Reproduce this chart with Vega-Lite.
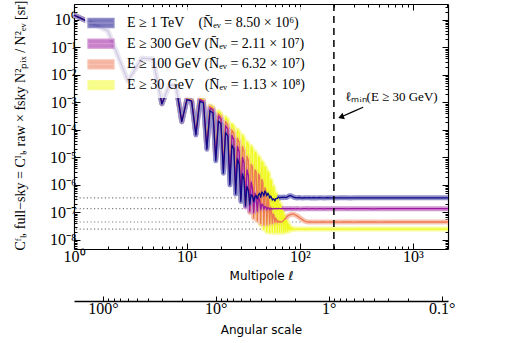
{
  "$schema": "https://vega.github.io/schema/vega-lite/v6.json",
  "width": 374,
  "height": 245,
  "autosize": {"type": "none"},
  "padding": {"left": 74, "top": 4, "right": 75, "bottom": 94},
  "background": "white",
  "config": {
    "view": {"stroke": null},
    "axis": {"domainColor": "black", "tickColor": "black", "labelColor": "black", "titleColor": "black", "grid": false, "labelFont": "Liberation Serif", "labelFontSize": 16, "domainWidth": 1.2, "tickWidth": 1},
    "legend": {"fillColor": "white"}
  },
  "resolve": {"axis": {"x": "independent", "y": "independent"}},
  "datasets": {
    "spec": [
      {"l": 1, "a": 1.5, "b": 1.5, "c": 1.5, "d": 1.5},
      {"l": 2, "a": 0.398, "b": 0.398, "c": 0.398, "d": 0.398},
      {"l": 3, "a": 6.03e-3, "b": 6.03e-3, "c": 6.03e-3, "d": 6.03e-3},
      {"l": 4, "a": 4.07e-2, "b": 4.07e-2, "c": 4.07e-2, "d": 4.07e-2},
      {"l": 5, "a": 3.8e-2, "b": 3.8e-2, "c": 3.8e-2, "d": 3.8e-2},
      {"l": 6, "a": 8.91e-4, "b": 8.91e-4, "c": 8.91e-4, "d": 8.91e-4},
      {"l": 7, "a": 4.37e-3, "b": 4.37e-3, "c": 4.37e-3, "d": 4.37e-3},
      {"l": 8, "a": 3.98e-3, "b": 3.98e-3, "c": 3.98e-3, "d": 3.98e-3},
      {"l": 9, "a": 2.0e-4, "b": 2.0e-4, "c": 2.0e-4, "d": 2.0e-4},
      {"l": 10, "a": 1.26e-3, "b": 1.32e-3, "c": 1.35e-3, "d": 1.38e-3},
      {"l": 11, "a": 1.12e-3, "b": 1.17e-3, "c": 1.2e-3, "d": 1.23e-3},
      {"l": 12, "a": 6.61e-5, "b": 7.08e-5, "c": 7.59e-5, "d": 7.94e-5},
      {"l": 13, "a": 1.12e-3, "b": 1.26e-3, "c": 1.35e-3, "d": 1.41e-3},
      {"l": 14, "a": 9.55e-4, "b": 1.1e-3, "c": 1.17e-3, "d": 1.26e-3},
      {"l": 15, "a": 2.0e-5, "b": 2.24e-5, "c": 2.51e-5, "d": 2.82e-5},
      {"l": 16, "a": 5.01e-4, "b": 6.31e-4, "c": 7.08e-4, "d": 7.59e-4},
      {"l": 17, "a": 4.17e-4, "b": 5.37e-4, "c": 6.03e-4, "d": 6.61e-4},
      {"l": 18, "a": 7.59e-6, "b": 8.91e-6, "c": 1.0e-5, "d": 1.12e-5},
      {"l": 19, "a": 2.09e-4, "b": 3.16e-4, "c": 3.8e-4, "d": 4.68e-4},
      {"l": 20, "a": 1.66e-4, "b": 2.51e-4, "c": 3.02e-4, "d": 3.8e-4},
      {"l": 21, "a": 2.69e-6, "b": 3.55e-6, "c": 3.98e-6, "d": 4.47e-6},
      {"l": 22, "a": 7.94e-5, "b": 1.41e-4, "c": 2.0e-4, "d": 2.82e-4},
      {"l": 23, "a": 6.03e-5, "b": 1.07e-4, "c": 1.51e-4, "d": 2.24e-4},
      {"l": 24, "a": 1.0e-6, "b": 1.41e-6, "c": 1.58e-6, "d": 1.78e-6},
      {"l": 25, "a": 2.82e-5, "b": 6.31e-5, "c": 1.0e-4, "d": 1.58e-4},
      {"l": 26, "a": 2.0e-5, "b": 4.47e-5, "c": 7.59e-5, "d": 1.26e-4},
      {"l": 27, "a": 4.68e-7, "b": 6.31e-7, "c": 7.08e-7, "d": 7.94e-7},
      {"l": 28, "a": 8.91e-6, "b": 2.51e-5, "c": 5.01e-5, "d": 1.0e-4},
      {"l": 29, "a": 5.62e-6, "b": 1.58e-5, "c": 3.55e-5, "d": 7.59e-5},
      {"l": 30, "a": 2.51e-7, "b": 3.16e-7, "c": 3.55e-7, "d": 3.98e-7},
      {"l": 31, "a": 2.51e-6, "b": 1.0e-5, "c": 2.51e-5, "d": 6.31e-5},
      {"l": 32, "a": 1.58e-6, "b": 6.31e-6, "c": 1.66e-5, "d": 4.47e-5},
      {"l": 33, "a": 1.78e-7, "b": 1.58e-7, "c": 1.78e-7, "d": 2.0e-7},
      {"l": 34, "a": 8.91e-7, "b": 3.55e-6, "c": 1.12e-5, "d": 3.55e-5},
      {"l": 35, "a": 6.31e-7, "b": 2.24e-6, "c": 7.59e-6, "d": 2.82e-5},
      {"l": 36, "a": 2.0e-7, "b": 1.12e-7, "c": 1.0e-7, "d": 1.12e-7},
      {"l": 37, "a": 4.47e-7, "b": 1.26e-6, "c": 5.62e-6, "d": 2.51e-5},
      {"l": 38, "a": 3.98e-7, "b": 7.94e-7, "c": 4.47e-6, "d": 2.0e-5},
      {"l": 39, "a": 2.51e-7, "b": 1.0e-7, "c": 6.31e-8, "d": 7.08e-8},
      {"l": 40, "a": 3.8e-7, "b": 5.01e-7, "c": 3.55e-6, "d": 1.58e-5},
      {"l": 41, "a": 4.17e-7, "b": 3.55e-7, "c": 3.02e-6, "d": 1.32e-5},
      {"l": 42, "a": 3.16e-7, "b": 1.12e-7, "c": 5.01e-8, "d": 5.01e-8},
      {"l": 43, "a": 4.47e-7, "b": 3.55e-7, "c": 2.51e-6, "d": 1.07e-5},
      {"l": 44, "a": 5.01e-7, "b": 2.82e-7, "c": 2.09e-6, "d": 8.91e-6},
      {"l": 45, "a": 3.55e-7, "b": 1.26e-7, "c": 3.98e-8, "d": 3.55e-8},
      {"l": 46, "a": 5.62e-7, "b": 2.0e-7, "c": 1.58e-6, "d": 7.08e-6},
      {"l": 47, "a": 5.01e-7, "b": 1.91e-7, "c": 1.26e-6, "d": 6.03e-6},
      {"l": 48, "a": 3.98e-7, "b": 1.32e-7, "c": 3.55e-8, "d": 2.51e-8},
      {"l": 49, "a": 6.03e-7, "b": 1.66e-7, "c": 7.94e-7, "d": 4.68e-6},
      {"l": 50, "a": 5.25e-7, "b": 1.58e-7, "c": 6.31e-7, "d": 3.8e-6},
      {"l": 51, "a": 3.98e-7, "b": 1.26e-7, "c": 3.55e-8, "d": 2.0e-8},
      {"l": 52, "a": 5.01e-7, "b": 1.51e-7, "c": 3.55e-7, "d": 3.02e-6},
      {"l": 53, "a": 4.47e-7, "b": 1.45e-7, "c": 2.82e-7, "d": 2.51e-6},
      {"l": 54, "a": 3.31e-7, "b": 1.26e-7, "c": 3.8e-8, "d": 1.91e-8},
      {"l": 55, "a": 3.98e-7, "b": 1.41e-7, "c": 1.58e-7, "d": 1.58e-6},
      {"l": 56, "a": 3.55e-7, "b": 1.38e-7, "c": 1.26e-7, "d": 1.26e-6},
      {"l": 57, "a": 2.82e-7, "b": 1.32e-7, "c": 3.98e-8, "d": 1.91e-8},
      {"l": 58, "a": 3.16e-7, "b": 1.41e-7, "c": 8.91e-8, "d": 8.91e-7},
      {"l": 59, "a": 3.02e-7, "b": 1.38e-7, "c": 7.94e-8, "d": 7.08e-7},
      {"l": 60, "a": 2.63e-7, "b": 1.35e-7, "c": 4.17e-8, "d": 1.91e-8},
      {"l": 61, "a": 3.16e-7, "b": 1.38e-7, "c": 6.31e-8, "d": 5.01e-7},
      {"l": 62, "a": 3.31e-7, "b": 1.41e-7, "c": 5.62e-8, "d": 3.98e-7},
      {"l": 63, "a": 3.16e-7, "b": 1.35e-7, "c": 4.27e-8, "d": 1.91e-8},
      {"l": 64, "a": 3.47e-7, "b": 1.38e-7, "c": 5.01e-8, "d": 3.16e-7},
      {"l": 65, "a": 3.63e-7, "b": 1.41e-7, "c": 4.79e-8, "d": 2.51e-7},
      {"l": 66, "a": 3.39e-7, "b": 1.38e-7, "c": 4.37e-8, "d": 1.91e-8},
      {"l": 67, "a": 3.55e-7, "b": 1.38e-7, "c": 4.68e-8, "d": 2.0e-7},
      {"l": 68, "a": 3.47e-7, "b": 1.35e-7, "c": 4.57e-8, "d": 1.66e-7},
      {"l": 69, "a": 3.55e-7, "b": 1.38e-7, "c": 4.47e-8, "d": 1.91e-8},
      {"l": 70, "a": 3.63e-7, "b": 1.41e-7, "c": 4.79e-8, "d": 1.26e-7},
      {"l": 71, "a": 3.47e-7, "b": 1.38e-7, "c": 5.01e-8, "d": 1.05e-7},
      {"l": 72, "a": 3.55e-7, "b": 1.38e-7, "c": 5.25e-8, "d": 1.91e-8},
      {"l": 73, "a": 3.63e-7, "b": 1.38e-7, "c": 5.62e-8, "d": 7.94e-8},
      {"l": 74, "a": 3.55e-7, "b": 1.35e-7, "c": 5.89e-8, "d": 6.61e-8},
      {"l": 75, "a": 3.47e-7, "b": 1.38e-7, "c": 6.31e-8, "d": 2.0e-8},
      {"l": 76, "a": 3.5e-7, "b": 1.37e-7, "c": 6.61e-8, "d": 5.25e-8},
      {"l": 77, "a": 3.6e-7, "b": 1.39e-7, "c": 7.08e-8, "d": 4.57e-8},
      {"l": 78, "a": 3.7e-7, "b": 1.36e-7, "c": 7.41e-8, "d": 2.09e-8},
      {"l": 79, "a": 3.9e-7, "b": 1.38e-7, "c": 7.76e-8, "d": 3.8e-8},
      {"l": 80, "a": 4.0e-7, "b": 1.37e-7, "c": 7.94e-8, "d": 3.47e-8},
      {"l": 81, "a": 4.05e-7, "b": 1.39e-7, "c": 8.13e-8, "d": 2.24e-8},
      {"l": 82, "a": 4.1e-7, "b": 1.36e-7, "c": 8.32e-8, "d": 3.02e-8},
      {"l": 83, "a": 4.05e-7, "b": 1.38e-7, "c": 8.51e-8, "d": 2.82e-8},
      {"l": 84, "a": 4.0e-7, "b": 1.37e-7, "c": 8.51e-8, "d": 2.34e-8},
      {"l": 85, "a": 3.9e-7, "b": 1.38e-7, "c": 8.71e-8, "d": 2.7e-8},
      {"l": 86, "a": 3.8e-7, "b": 1.36e-7, "c": 8.71e-8, "d": 2.6e-8},
      {"l": 87, "a": 3.7e-7, "b": 1.38e-7, "c": 8.71e-8, "d": 2.4e-8},
      {"l": 88, "a": 3.6e-7, "b": 1.37e-7, "c": 8.71e-8, "d": 2.55e-8},
      {"l": 89, "a": 3.55e-7, "b": 1.38e-7, "c": 8.51e-8, "d": 2.51e-8},
      {"l": 90, "a": 3.5e-7, "b": 1.37e-7, "c": 8.32e-8, "d": 2.45e-8},
      {"l": 92, "a": 3.45e-7, "b": 1.36e-7, "c": 7.94e-8, "d": 2.48e-8},
      {"l": 95, "a": 3.38e-7, "b": 1.39e-7, "c": 7.41e-8, "d": 2.52e-8},
      {"l": 98, "a": 3.5e-7, "b": 1.37e-7, "c": 6.76e-8, "d": 2.49e-8},
      {"l": 102, "a": 3.42e-7, "b": 1.35e-7, "c": 6.03e-8, "d": 2.53e-8},
      {"l": 106, "a": 3.36e-7, "b": 1.38e-7, "c": 5.37e-8, "d": 2.5e-8},
      {"l": 110, "a": 3.46e-7, "b": 1.37e-7, "c": 4.9e-8, "d": 2.47e-8},
      {"l": 115, "a": 3.4e-7, "b": 1.39e-7, "c": 4.57e-8, "d": 2.51e-8},
      {"l": 120, "a": 3.44e-7, "b": 1.36e-7, "c": 4.5e-8, "d": 2.5e-8},
      {"l": 126, "a": 3.37e-7, "b": 1.38e-7, "c": 4.55e-8, "d": 2.52e-8},
      {"l": 133, "a": 3.43e-7, "b": 1.37e-7, "c": 4.48e-8, "d": 2.49e-8},
      {"l": 140, "a": 3.39e-7, "b": 1.36e-7, "c": 4.52e-8, "d": 2.5e-8},
      {"l": 148, "a": 3.45e-7, "b": 1.38e-7, "c": 4.47e-8, "d": 2.51e-8},
      {"l": 156, "a": 3.41e-7, "b": 1.37e-7, "c": 4.53e-8, "d": 2.49e-8},
      {"l": 165, "a": 3.38e-7, "b": 1.36e-7, "c": 4.5e-8, "d": 2.5e-8},
      {"l": 175, "a": 3.43e-7, "b": 1.38e-7, "c": 4.49e-8, "d": 2.51e-8},
      {"l": 186, "a": 3.4e-7, "b": 1.37e-7, "c": 4.52e-8, "d": 2.5e-8},
      {"l": 198, "a": 3.42e-7, "b": 1.36e-7, "c": 4.5e-8, "d": 2.49e-8},
      {"l": 210, "a": 3.39e-7, "b": 1.37e-7, "c": 4.51e-8, "d": 2.5e-8},
      {"l": 225, "a": 3.41e-7, "b": 1.38e-7, "c": 4.49e-8, "d": 2.51e-8},
      {"l": 240, "a": 3.4e-7, "b": 1.37e-7, "c": 4.5e-8, "d": 2.5e-8},
      {"l": 260, "a": 3.42e-7, "b": 1.36e-7, "c": 4.51e-8, "d": 2.5e-8},
      {"l": 280, "a": 3.39e-7, "b": 1.37e-7, "c": 4.5e-8, "d": 2.49e-8},
      {"l": 300, "a": 3.41e-7, "b": 1.37e-7, "c": 4.49e-8, "d": 2.5e-8},
      {"l": 330, "a": 3.4e-7, "b": 1.38e-7, "c": 4.5e-8, "d": 2.51e-8},
      {"l": 360, "a": 3.41e-7, "b": 1.37e-7, "c": 4.51e-8, "d": 2.5e-8},
      {"l": 400, "a": 3.4e-7, "b": 1.37e-7, "c": 4.5e-8, "d": 2.5e-8},
      {"l": 450, "a": 3.41e-7, "b": 1.36e-7, "c": 4.5e-8, "d": 2.5e-8},
      {"l": 500, "a": 3.4e-7, "b": 1.37e-7, "c": 4.49e-8, "d": 2.5e-8},
      {"l": 600, "a": 3.4e-7, "b": 1.37e-7, "c": 4.5e-8, "d": 2.5e-8},
      {"l": 700, "a": 3.41e-7, "b": 1.37e-7, "c": 4.5e-8, "d": 2.5e-8},
      {"l": 800, "a": 3.4e-7, "b": 1.37e-7, "c": 4.5e-8, "d": 2.5e-8},
      {"l": 1000, "a": 3.4e-7, "b": 1.37e-7, "c": 4.5e-8, "d": 2.5e-8},
      {"l": 1200, "a": 3.4e-7, "b": 1.37e-7, "c": 4.5e-8, "d": 2.5e-8},
      {"l": 1500, "a": 3.4e-7, "b": 1.37e-7, "c": 4.5e-8, "d": 2.5e-8},
      {"l": 1800, "a": 3.4e-7, "b": 1.37e-7, "c": 4.5e-8, "d": 2.5e-8},
      {"l": 2048, "a": 3.4e-7, "b": 1.37e-7, "c": 4.5e-8, "d": 2.5e-8}
    ],
    "noise": [{"lev": 3.4e-7}, {"lev": 1.37e-7}, {"lev": 4.5e-8}, {"lev": 2.5e-8}],
    "lmin": [{"l": 200}],
    "note": [{"l": 252, "v": 1.58e-3, "t": "ℓₘᵢₙ(E ≥ 30 GeV)"}],
    "arrow": [{"l": 363, "v": 6.69e-4}, {"l": 296, "v": 4.63e-4}, {"l": 231, "v": 2.96e-4}],
    "head": [{"l": 231, "v": 2.96e-4}]
  },
  "layer": [
    {
      "data": {"name": "noise"},
      "mark": {"type": "rule", "color": "#7f7f7f", "strokeDash": [1.2, 2.4], "strokeWidth": 1.2},
      "encoding": {
        "y": {"field": "lev", "type": "quantitative", "scale": {"type": "log", "domain": [4.7e-9, 3.8], "nice": false}, "axis": null}
      }
    },
    {
      "data": {"name": "spec"},
      "transform": [{"fold": ["d", "c", "b", "a"], "as": ["s", "v"]}],
      "mark": {"type": "line", "strokeWidth": 5, "opacity": 1, "strokeJoin": "round"},
      "encoding": {
        "x": {"field": "l", "type": "quantitative", "scale": {"type": "log", "domain": [1, 2048], "nice": false},
          "axis": {"orient": "top", "values": [1,2,3,4,5,6,7,8,9,10,20,30,40,50,60,70,80,90,100,200,300,400,500,600,700,800,900,1000,2000], "labels": false, "title": null,
            "tickSize": {"condition": {"test": "indexof([1,10,100,1000], datum.value) >= 0", "value": -6}, "value": -3}}},
        "y": {"field": "v", "type": "quantitative", "scale": {"type": "log", "domain": [4.7e-9, 3.8], "nice": false},
          "axis": {"orient": "right", "values": [5e-9,6e-9,7e-9,8e-9,9e-9,1e-8,2e-8,3e-8,4e-8,5e-8,6e-8,7e-8,8e-8,9e-8,1e-7,2e-7,3e-7,4e-7,5e-7,6e-7,7e-7,8e-7,9e-7,1e-6,2e-6,3e-6,4e-6,5e-6,6e-6,7e-6,8e-6,9e-6,1e-5,2e-5,3e-5,4e-5,5e-5,6e-5,7e-5,8e-5,9e-5,0.0001,0.0002,0.0003,0.0004,0.0005,0.0006,0.0007,0.0008,0.0009,0.001,0.002,0.003,0.004,0.005,0.006,0.007,0.008,0.009,0.01,0.02,0.03,0.04,0.05,0.06,0.07,0.08,0.09,0.1,0.2,0.3,0.4,0.5,0.6,0.7,0.8,0.9,1,2,3], "labels": false, "title": null,
            "tickSize": {"condition": {"test": "indexof([1e-8,1e-7,1e-6,1e-5,0.0001,0.001,0.01,0.1,1], datum.value) >= 0", "value": -6}, "value": -3}}},
        "stroke": {"field": "s", "type": "nominal", "scale": {"domain": ["a", "b", "c", "d"], "range": ["#9290c9", "#d297d3", "#f7c3b2", "#f8fc9b"]},
          "legend": {"orient": "none", "legendX": 11, "legendY": 3, "title": null, "fillColor": "white", "padding": 5, "zindex": 1,
            "symbolType": "M-1.3,-0.45H1.3V0.45H-1.3Z M-1.3,0H1.3", "symbolSize": 400, "symbolStrokeWidth": 1.3,
            "labelFont": "Liberation Serif", "labelFontSize": 14, "labelColor": "black", "labelOffset": 15, "rowPadding": 1.7, "labelLimit": 400,
            "labelExpr": "datum.label == 'a' ? 'E ≥ 1 TeV\u2003(N̄ₑᵥ = 8.50 × 10⁶)' : datum.label == 'b' ? 'E ≥ 300 GeV (N̄ₑᵥ = 2.11 × 10⁷)' : datum.label == 'c' ? 'E ≥ 100 GeV (N̄ₑᵥ = 6.32 × 10⁷)' : 'E ≥ 30 GeV\u2002 (N̄ₑᵥ = 1.13 × 10⁸)'",
            "encode": {
              "legend": {"update": {"fill": {"value": "white"}, "fillOpacity": {"value": 0.8}}},
              "symbols": {"update": {"fill": {"scale": "color", "field": "value"}, "fillOpacity": {"value": 0.55}, "stroke": {"scale": "color", "field": "value"}, "strokeOpacity": {"value": 1}}}}}}
      }
    },
    {
      "data": {"name": "spec"},
      "transform": [{"fold": ["d", "c", "b", "a"], "as": ["s", "v"]}],
      "mark": {"type": "line", "strokeWidth": 1.3, "strokeJoin": "round"},
      "encoding": {
        "x": {"field": "l", "type": "quantitative", "scale": {"type": "log", "domain": [1, 2048], "nice": false},
          "axis": {"orient": "bottom", "values": [1,2,3,4,5,6,7,8,9,10,20,30,40,50,60,70,80,90,100,200,300,400,500,600,700,800,900,1000,2000],
            "labelExpr": "datum.value == 1 ? '10⁰' : datum.value == 10 ? '10¹' : datum.value == 100 ? '10²' : datum.value == 1000 ? '10³' : ''",
            "labelFlush": false, "labelOverlap": false, "labelPadding": 5,
            "tickSize": {"condition": {"test": "indexof([1,10,100,1000], datum.value) >= 0", "value": -6}, "value": -3},
            "title": "Multipole ℓ", "titleFont": "DejaVu Sans", "titleFontSize": 12, "titleFontWeight": "normal", "titleY": 26, "titleBaseline": "middle"}},
        "y": {"field": "v", "type": "quantitative", "scale": {"type": "log", "domain": [4.7e-9, 3.8], "nice": false},
          "axis": {"orient": "left", "values": [5e-9,6e-9,7e-9,8e-9,9e-9,1e-8,2e-8,3e-8,4e-8,5e-8,6e-8,7e-8,8e-8,9e-8,1e-7,2e-7,3e-7,4e-7,5e-7,6e-7,7e-7,8e-7,9e-7,1e-6,2e-6,3e-6,4e-6,5e-6,6e-6,7e-6,8e-6,9e-6,1e-5,2e-5,3e-5,4e-5,5e-5,6e-5,7e-5,8e-5,9e-5,0.0001,0.0002,0.0003,0.0004,0.0005,0.0006,0.0007,0.0008,0.0009,0.001,0.002,0.003,0.004,0.005,0.006,0.007,0.008,0.009,0.01,0.02,0.03,0.04,0.05,0.06,0.07,0.08,0.09,0.1,0.2,0.3,0.4,0.5,0.6,0.7,0.8,0.9,1,2,3],
            "labelExpr": "datum.value == 1 ? '10⁰' : datum.value == 0.1 ? '10⁻¹' : datum.value == 0.01 ? '10⁻²' : datum.value == 0.001 ? '10⁻³' : datum.value == 0.0001 ? '10⁻⁴' : datum.value == 1e-5 ? '10⁻⁵' : datum.value == 1e-6 ? '10⁻⁶' : datum.value == 1e-7 ? '10⁻⁷' : datum.value == 1e-8 ? '10⁻⁸' : ''",
            "labelFlush": false, "labelOverlap": false, "labelPadding": 4,
            "tickSize": {"condition": {"test": "indexof([1e-8,1e-7,1e-6,1e-5,0.0001,0.001,0.01,0.1,1], datum.value) >= 0", "value": -6}, "value": -3},
            "title": "Cᶠₗ, full−sky = Cᴵₗ, raw × fsky N²ₚᵢₓ / N²ₑᵥ [sr]", "titleFont": "Liberation Serif", "titleFontSize": 14, "titleFontWeight": "normal", "titleX": -54, "titleY": 121, "titleAlign": "center", "titleBaseline": "middle"}},
        "color": {"field": "s", "type": "nominal", "scale": {"domain": ["a", "b", "c", "d"], "range": ["#0d0887", "#9c179e", "#ed7953", "#f0f921"]},
          "legend": {"orient": "none", "legendX": 11, "legendY": 3, "title": null, "fillColor": "white", "padding": 5, "zindex": 1,
            "symbolType": "M-1.3,-0.45H1.3V0.45H-1.3Z M-1.3,0H1.3", "symbolSize": 400, "symbolStrokeWidth": 1.3,
            "labelFont": "Liberation Serif", "labelFontSize": 14, "labelColor": "black", "labelOffset": 15, "rowPadding": 1.7, "labelLimit": 400,
            "labelExpr": "datum.label == 'a' ? 'E ≥ 1 TeV\u2003(N̄ₑᵥ = 8.50 × 10⁶)' : datum.label == 'b' ? 'E ≥ 300 GeV (N̄ₑᵥ = 2.11 × 10⁷)' : datum.label == 'c' ? 'E ≥ 100 GeV (N̄ₑᵥ = 6.32 × 10⁷)' : 'E ≥ 30 GeV\u2002 (N̄ₑᵥ = 1.13 × 10⁸)'",
            "encode": {
              "legend": {"update": {"fill": {"value": "white"}, "fillOpacity": {"value": 0.8}}},
              "symbols": {"update": {"fill": {"scale": "color", "field": "value"}, "fillOpacity": {"value": 0.55}, "stroke": {"scale": "color", "field": "value"}, "strokeOpacity": {"value": 1}}}}}}
      }
    },
    {
      "data": {"name": "lmin"},
      "mark": {"type": "rule", "color": "black", "strokeWidth": 1.5, "strokeDash": [7, 5]},
      "encoding": {
        "x": {"field": "l", "type": "quantitative", "scale": {"type": "log", "domain": [1, 2048], "nice": false},
          "axis": {"orient": "bottom", "offset": 52, "values": [1.8,2,2.25,2.571,3,3.6,4.5,6,9,18,20,22.5,25.71,30,36,45,60,90,180,200,225,257.1,300,360,450,600,900,1800],
            "labelExpr": "datum.value == 1.8 ? '100°' : datum.value == 18 ? '10°' : datum.value == 180 ? '1°' : datum.value == 1800 ? '0.1°' : ''",
            "labelFlush": false, "labelOverlap": false, "labelPadding": 4, "domainWidth": 1.5,
            "tickSize": {"condition": {"test": "indexof([1.8,18,180,1800], datum.value) >= 0", "value": -5}, "value": -3},
            "title": "Angular scale", "titleFont": "DejaVu Sans", "titleFontSize": 12, "titleFontWeight": "normal", "titleY": 28, "titleBaseline": "middle"}}
      }
    },
    {
      "data": {"name": "note"},
      "mark": {"type": "text", "align": "left", "baseline": "middle", "font": "Liberation Serif", "fontSize": 13, "color": "black"},
      "encoding": {
        "x": {"field": "l", "type": "quantitative", "scale": {"type": "log", "domain": [1, 2048], "nice": false}, "axis": null},
        "y": {"field": "v", "type": "quantitative", "scale": {"type": "log", "domain": [4.7e-9, 3.8], "nice": false}, "axis": null},
        "text": {"field": "t"}
      }
    },
    {
      "data": {"name": "arrow"},
      "mark": {"type": "line", "color": "black", "strokeWidth": 1.3, "interpolate": "monotone"},
      "encoding": {
        "x": {"field": "l", "type": "quantitative", "scale": {"type": "log", "domain": [1, 2048], "nice": false}, "axis": null},
        "y": {"field": "v", "type": "quantitative", "scale": {"type": "log", "domain": [4.7e-9, 3.8], "nice": false}, "axis": null}
      }
    },
    {
      "data": {"name": "head"},
      "mark": {"type": "point", "shape": "triangle-left", "filled": true, "color": "black", "size": 45, "angle": -20, "opacity": 1},
      "encoding": {
        "x": {"field": "l", "type": "quantitative", "scale": {"type": "log", "domain": [1, 2048], "nice": false}, "axis": null},
        "y": {"field": "v", "type": "quantitative", "scale": {"type": "log", "domain": [4.7e-9, 3.8], "nice": false}, "axis": null}
      }
    }
  ]
}
